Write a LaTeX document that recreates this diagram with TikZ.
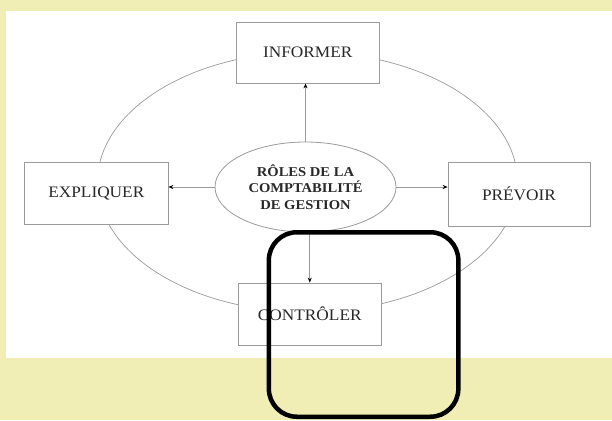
\documentclass[tikz,border=0pt]{standalone}
\usepackage{fontspec}
\setmainfont{Liberation Serif}[FakeStretch=1.08]
\usetikzlibrary{shapes.geometric,arrows.meta}
\definecolor{bgyellow}{RGB}{240,238,180}
\definecolor{linegray}{RGB}{155,155,155}
\definecolor{txt}{RGB}{40,40,40}
\begin{document}
\begin{tikzpicture}[x=1pt,y=-1pt,
  rolebox/.style={draw=linegray, line width=0.8pt, fill=white, inner sep=0pt,
    text=txt, font=\fontsize{16}{18}\selectfont},
  centre/.style={ellipse, draw=linegray, line width=0.8pt, fill=white, inner sep=0pt,
    text=txt, align=center, font=\fontsize{13.5}{16.5}\selectfont\bfseries},
  link/.style={draw=linegray, line width=0.8pt, -{Stealth[length=5pt,width=4pt,color=black]}},
  highlight/.style={draw=black, line width=4.5pt, rounded corners=28pt, inner sep=0pt}]
\useasboundingbox (0,0) rectangle (612,420);
\fill[bgyellow] (0,0) rectangle (612,420);
\fill[white] (6,11) rectangle (612,358);
\draw[linegray, line width=0.7pt] (307.5,182) ellipse [x radius=210, y radius=130];
\node[rolebox, minimum width=142.5, minimum height=61] (inf) at (307.75,52.5) {INFORMER};
\node[rolebox, minimum width=143.4, minimum height=62] (exp) at (96.3,193) {EXPLIQUER};
\node[rolebox, minimum width=142, minimum height=64] (pre) at (519,194) {PRÉVOIR};
\node[rolebox, minimum width=142.5, minimum height=62] (ctl) at (309.75,314) {CONTRÔLER};
\node[centre, minimum width=181, minimum height=90] (ctr) at (305.5,187)
  {RÔLES DE LA\\COMPTABILITÉ\\DE GESTION};
\draw[link] (ctr.north) -- (ctr.north |- inf.south);
\draw[link] (ctr.west) -- (ctr.west -| exp.east);
\draw[link] (ctr.east) -- (ctr.east -| pre.west);
\draw[link] (ctl.north |- ctr.south) -- (ctl.north);
\node[highlight, minimum width=189.5, minimum height=184.5] (hl) at (363.6,324.5) {};
\end{tikzpicture}
\end{document}
